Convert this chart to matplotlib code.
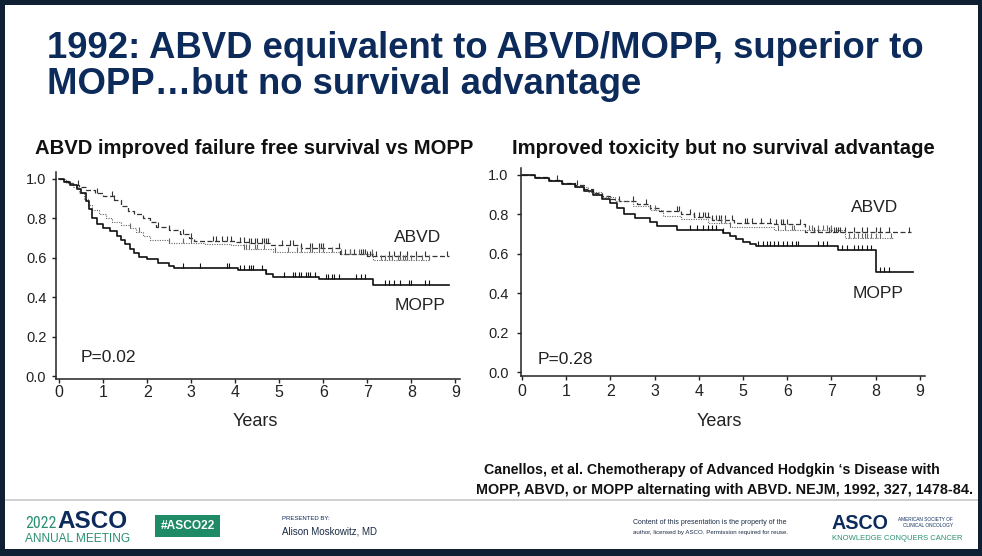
import numpy as np
import matplotlib
matplotlib.use("Agg")
import matplotlib.pyplot as plt
from matplotlib import font_manager
from matplotlib.font_manager import FontProperties
from matplotlib.patches import Rectangle
from matplotlib.path import Path
from matplotlib.markers import MarkerStyle

# ---- data ----
years_ticks = [0, 1, 2, 3, 4, 5, 6, 7, 8, 9]
surv_ticks = [0.0, 0.2, 0.4, 0.6, 0.8, 1.0]

# left: failure free survival
ffs_abvd_t = [0, 0.1, 0.2, 0.3, 0.45, 0.6, 0.8, 1.0, 1.25, 1.4, 1.55, 1.7, 1.9, 2.05,
              2.2, 2.5, 2.75, 2.95, 3.05, 4.0, 4.3, 4.8, 5.5, 6.38, 7.0]
ffs_abvd_s = [1.0, 0.99, 0.98, 0.97, 0.96, 0.945, 0.93, 0.915, 0.895, 0.865, 0.84, 0.82,
              0.80, 0.78, 0.755, 0.74, 0.72, 0.70, 0.685, 0.68, 0.675, 0.665, 0.652, 0.62, 0.61]
ffs_abvd_end = 8.85
ffs_abvd_cens = [0.43, 0.85, 1.2, 1.25, 2.25, 2.5, 2.8, 3.0, 3.5, 3.55, 3.7, 3.8, 3.9, 4.1,
                 4.2, 4.3, 4.35, 4.45, 4.5, 4.6, 4.65, 4.7, 4.75, 5.05, 5.25, 5.3, 5.5, 5.7,
                 5.75, 5.9, 5.95, 6.0, 6.35, 6.5, 6.6, 6.7, 6.85, 6.9, 6.95, 7.0, 7.05, 7.1,
                 7.2, 7.5, 7.6, 7.75, 7.9, 8.1, 8.3, 8.8]

ffs_alt_t = [0, 0.15, 0.3, 0.45, 0.55, 0.65, 0.75, 0.9, 1.05, 1.2, 1.4, 1.6, 1.75, 1.9,
             2.05, 2.5, 3.3, 3.9, 4.2, 4.85, 6.4, 7.14]
ffs_alt_s = [1.0, 0.98, 0.96, 0.93, 0.9, 0.87, 0.845, 0.82, 0.80, 0.78, 0.765, 0.75, 0.73,
             0.71, 0.69, 0.675, 0.67, 0.665, 0.645, 0.63, 0.62, 0.59]
ffs_alt_end = 8.4
ffs_alt_cens = [1.6, 1.8, 2.5, 2.8, 3.0, 4.2, 4.25, 4.3, 4.45, 4.5, 4.65, 4.9, 5.2, 5.4, 5.5,
                5.7, 5.75, 5.9, 6.0, 6.2, 6.4, 6.6, 6.8, 7.1, 7.3, 7.4, 7.5, 7.55, 7.7, 7.75,
                7.8, 7.85, 7.9, 8.0, 8.1, 8.25, 8.4]

ffs_mopp_t = [0, 0.1, 0.25, 0.4, 0.5, 0.6, 0.68, 0.75, 0.85, 1.0, 1.15, 1.3, 1.4, 1.5, 1.6,
              1.7, 1.8, 2.0, 2.25, 2.5, 2.6, 4.05, 4.7, 4.85, 5.9, 7.14]
ffs_mopp_s = [1.0, 0.985, 0.97, 0.95, 0.93, 0.89, 0.85, 0.80, 0.77, 0.75, 0.735, 0.71, 0.69,
              0.67, 0.645, 0.625, 0.605, 0.595, 0.575, 0.56, 0.55, 0.54, 0.52, 0.505, 0.49, 0.46]
ffs_mopp_end = 8.85
ffs_mopp_cens = [2.8, 3.2, 3.8, 3.85, 4.1, 4.2, 4.3, 4.35, 4.4, 4.6, 4.7, 5.1, 5.3, 5.35, 5.45,
                 5.5, 5.6, 5.65, 5.7, 5.8, 6.05, 6.1, 6.2, 6.25, 6.35, 6.75, 6.85, 6.95, 7.4,
                 7.5, 7.6, 7.75, 7.95, 8.0, 8.3, 8.4]

# right: overall survival
os_abvd_t = [0, 0.3, 0.6, 0.9, 1.2, 1.4, 1.6, 1.8, 2.0, 2.2, 2.6, 2.9, 3.1, 3.6, 3.9, 4.3,
             4.8, 5.7, 6.4]
os_abvd_s = [1.0, 0.99, 0.975, 0.96, 0.95, 0.93, 0.91, 0.895, 0.88, 0.87, 0.855, 0.835,
             0.815, 0.80, 0.785, 0.77, 0.755, 0.75, 0.71]
os_abvd_end = 8.8
os_abvd_cens = [0.8, 1.25, 2.2, 2.5, 2.8, 3.5, 3.55, 3.8, 3.9, 4.0, 4.1, 4.15, 4.2, 4.3, 4.4,
                4.45, 4.5, 4.6, 4.75, 5.05, 5.1, 5.2, 5.4, 5.6, 5.75, 5.85, 5.9, 6.0, 6.3,
                6.6, 6.7, 6.95, 7.0, 7.05, 7.1, 7.15, 7.2, 7.3, 7.5, 7.7, 7.8, 8.0, 8.1, 8.3,
                8.75]

os_alt_t = [0, 0.3, 0.6, 0.9, 1.2, 1.5, 1.8, 2.1, 2.5, 2.9, 3.2, 3.6, 4.2, 4.7, 5.7, 7.3]
os_alt_s = [1.0, 0.985, 0.97, 0.955, 0.94, 0.915, 0.89, 0.87, 0.845, 0.82, 0.79, 0.775,
            0.755, 0.735, 0.72, 0.68]
os_alt_end = 8.4
os_alt_cens = [3.0, 4.5, 4.6, 4.7, 5.8, 5.95, 6.1, 6.15, 6.5, 6.55, 6.7, 6.8, 6.9, 7.0, 7.4,
               7.5, 7.6, 7.7, 7.75, 7.8, 7.9, 8.0, 8.1, 8.35]

os_mopp_t = [0, 0.3, 0.6, 0.9, 1.2, 1.4, 1.6, 1.8, 2.0, 2.15, 2.3, 2.55, 2.9, 3.05, 3.5,
             4.55, 4.7, 4.85, 5.0, 5.15, 5.3, 7.15, 8.0]
os_mopp_s = [1.0, 0.985, 0.97, 0.955, 0.94, 0.92, 0.90, 0.88, 0.86, 0.83, 0.80, 0.78, 0.76,
             0.74, 0.72, 0.705, 0.69, 0.675, 0.66, 0.65, 0.64, 0.62, 0.51]
os_mopp_end = 8.85
os_mopp_cens = [3.8, 3.95, 4.1, 4.2, 4.3, 4.4, 4.55, 5.35, 5.45, 5.55, 5.6, 5.7, 5.8, 5.9,
                6.0, 6.1, 6.2, 6.25, 6.7, 6.8, 6.9, 7.25, 7.35, 7.5, 7.6, 7.7, 7.8, 7.9, 8.1,
                8.2, 8.3]

# ---- fonts ----
SANS = 'Liberation Sans'
plt.rcParams['font.family'] = [SANS, 'DejaVu Sans']


def condensed(weight):
    # condensed face for the logo digits, plain sans if none is installed
    prefs = ['LiberationSansNarrow-' + weight, 'RobotoCondensed-' + weight,
             'DejaVuSansCondensed' + ('-Bold' if weight == 'Bold' else '')]
    files = [f.fname for f in font_manager.fontManager.ttflist]
    for p in prefs:
        for fn in files:
            if fn.replace(' ', '').lower().endswith(p.lower() + '.ttf'):
                return FontProperties(fname=fn)
    return FontProperties(family=SANS, weight=weight.lower())


COND_REG = condensed('Regular')

W, H = 982, 556
NAVY = '#0c2b5b'
TEAL = '#2a8f72'

fig = plt.figure(figsize=(W / 100, H / 100), dpi=100, facecolor='#0f2035')
fig.patches.append(Rectangle((5 / W, 1 - 549 / H), 973 / W, 544 / H, transform=fig.transFigure,
                             facecolor='white', edgecolor='none', zorder=-5))
fig.add_artist(plt.Line2D([6 / W, 977 / W], [1 - 500 / H] * 2, color='#c8c8c8', lw=1.2))


def fx(x, y):
    return x / W, 1 - y / H


texts = []


def put(x, y, s, w=None, **kw):
    t = fig.text(*fx(x, y), s, **kw)
    if w is not None:
        texts.append((t, w))
    return t


cens_marker = MarkerStyle(Path([[0, 0], [0, 1]]))


def km(ax, t, s, end, cens, **style):
    xs = list(t) + [end]
    ys = list(s) + [s[-1]]
    ax.step(xs, ys, where='post', **style)
    idx = np.searchsorted(t, cens, side='right') - 1
    cy = np.asarray(s)[idx]
    ax.plot(cens, cy, linestyle='none', marker=cens_marker, ms=7, mew=0.8,
            color=style.get('color', 'k'))


def panel(rect, xlim, ylim, ypad, xpad, curves):
    ax = fig.add_axes(rect, zorder=2)
    ax.set_facecolor('none')
    for sp in ('top', 'right'):
        ax.spines[sp].set_visible(False)
    for sp in ('left', 'bottom'):
        ax.spines[sp].set_color('#222222')
        ax.spines[sp].set_linewidth(1.1)
    ax.set_xlim(*xlim)
    ax.set_ylim(*ylim)
    ax.set_xticks(years_ticks)
    ax.set_yticks(surv_ticks)
    ax.set_yticklabels([f'{v:.1f}' for v in surv_ticks])
    ax.tick_params(axis='y', length=3, width=1, pad=ypad, labelsize=10.5, colors='#222222')
    ax.tick_params(axis='x', length=3, width=1, pad=xpad, labelsize=11.5, colors='#222222')
    for c in curves:
        km(ax, *c[:4], **c[4])
    return ax


solid = dict(color='#111111', lw=1.2)
dashed = dict(color='#333333', lw=0.9, ls=(0, (4, 2)))
dotted = dict(color='#666666', lw=0.8, ls=(0, (1, 1.2)))

# left panel: x 0 at px 59.3, 44 px/yr; y 0 at 376, 1 at 179
lx0, lpx = 59.3, 44.0
ly0, lpy = 376.0, 197.0
l_left, l_right = 56, 460
l_bot, l_top = 379, 172
panel([l_left / W, 1 - l_bot / H, (l_right - l_left) / W, (l_bot - l_top) / H],
      ((l_left - lx0) / lpx, (l_right - lx0) / lpx),
      ((ly0 - l_bot) / lpy, (ly0 - l_top) / lpy), 4, 1,
      [(ffs_abvd_t, ffs_abvd_s, ffs_abvd_end, ffs_abvd_cens, dashed),
       (ffs_alt_t, ffs_alt_s, ffs_alt_end, ffs_alt_cens, dotted),
       (ffs_mopp_t, ffs_mopp_s, ffs_mopp_end, ffs_mopp_cens, solid)])

# right panel: x 0 at px 522, 44.2 px/yr; y 0 at 372, 1 at 175
rx0, rpx = 522.0, 44.2
ry0, rpy = 372.0, 197.0
r_left, r_right = 521, 925
r_bot, r_top = 376, 168
panel([r_left / W, 1 - r_bot / H, (r_right - r_left) / W, (r_bot - r_top) / H],
      ((r_left - rx0) / rpx, (r_right - rx0) / rpx),
      ((ry0 - r_bot) / rpy, (ry0 - r_top) / rpy), 6, 3,
      [(os_abvd_t, os_abvd_s, os_abvd_end, os_abvd_cens, dashed),
       (os_alt_t, os_alt_s, os_alt_end, os_alt_cens, dotted),
       (os_mopp_t, os_mopp_s, os_mopp_end, os_mopp_cens, solid)])

# panel annotations
lab = dict(fontsize=12.5, color='#222222', ha='center', va='center')
put(418, 237, 'ABVD', **lab)
put(420, 306, 'MOPP', **lab)
put(108, 357, 'P=0.02', **lab)
put(255, 422, 'Years', fontsize=13, color='#222222', ha='center', va='center')
put(875, 208, 'ABVD', **lab)
put(878, 293, 'MOPP', **lab)
put(565, 359, 'P=0.28', **lab)
put(719, 422, 'Years', fontsize=13, color='#222222', ha='center', va='center')

# titles
tk = dict(fontweight='bold', color=NAVY, va='baseline', fontsize=28)
put(47, 58, '1992: ABVD equivalent to ABVD/MOPP, superior to', 878, **tk)
put(47, 94, 'MOPP\u2026but no survival advantage', 595, **tk)
sk = dict(fontweight='bold', color='#111111', va='baseline', fontsize=17)
put(35, 154, 'ABVD improved failure free survival vs MOPP', 440, **sk)
put(512, 154, 'Improved toxicity but no survival advantage', 425, **sk)

ck = dict(fontweight='bold', color='#111111', va='baseline', fontsize=10)
put(484, 474, 'Canellos, et al. Chemotherapy of Advanced Hodgkin \u2018s Disease with', 458, **ck)
put(476, 494, 'MOPP, ABVD, or MOPP alternating with ABVD. NEJM, 1992, 327, 1478-84.', 496, **ck)

# footer
put(25, 528, '2022', 31, fontproperties=COND_REG, color=TEAL, va='baseline')
put(57, 528, 'ASCO', 70, color=NAVY, fontsize=18, fontweight='bold', va='baseline')
put(25, 542, 'ANNUAL MEETING', 105, color=TEAL, fontsize=9, va='baseline')
fig.patches.append(Rectangle((155 / W, 1 - 537 / H), 65 / W, 22 / H, transform=fig.transFigure,
                             facecolor='#1f8a66', edgecolor='none'))
put(187.5, 526, '#ASCO22', 54, color='white', fontsize=9, fontweight='bold', ha='center', va='center')
put(282, 520, 'PRESENTED BY:', 48, color=NAVY, fontsize=4.5, va='baseline')
put(282, 535, 'Alison Moskowitz, MD', 96, color='#1a2a44', fontsize=8, va='baseline')
put(633, 524, 'Content of this presentation is the property of the', 154, color='#1a2a44', fontsize=5, va='baseline')
put(633, 534, 'author, licensed by ASCO. Permission required for reuse.', 160, color='#1a2a44', fontsize=5, va='baseline')
put(832, 529, 'ASCO', 57, color=NAVY, fontsize=18, fontweight='bold', va='baseline')
put(898, 521, 'AMERICAN SOCIETY OF', 55, color=NAVY, fontsize=4, va='baseline')
put(903, 527, 'CLINICAL ONCOLOGY', 50, color=NAVY, fontsize=4, va='baseline')
put(832, 540, 'KNOWLEDGE CONQUERS CANCER', 130, color=TEAL, fontsize=6, va='baseline')

# scale text so each run spans the width seen on the slide
fig.canvas.draw()
r = fig.canvas.get_renderer()
for t, w in texts:
    bb = t.get_window_extent(r)
    t.set_fontsize(t.get_fontsize() * w / bb.width)

fig.savefig('out.png', dpi=100, facecolor=fig.get_facecolor())
